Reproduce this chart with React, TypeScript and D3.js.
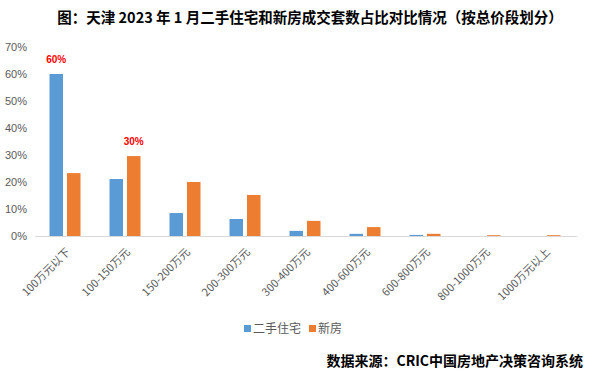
import React from "react";
import * as d3 from "d3";

const categories = ["100万元以下", "100-150万元", "150-200万元", "200-300万元", "300-400万元", "400-600万元", "600-800万元", "800-1000万元", "1000万元以上"];
const secondHand = [60.0, 21.1, 8.5, 6.3, 1.9, 0.8, 0.4, 0, 0];
const newHouse = [23.3, 29.6, 20.0, 15.2, 5.6, 3.3, 0.8, 0.3, 0.3];
const yTicks = [0, 10, 20, 30, 40, 50, 60, 70];
const seriesNames = ["二手住宅", "新房"];
const colors = ["#5B9BD5", "#ED7D31"];
const annotations = [
  { cat: 0, series: 0, text: "60%" },
  { cat: 1, series: 1, text: "30%" },
];

const W = 591, H = 377;
const left = 35, right = 575, top = 47, bottom = 236;

export default function App() {
  const x = d3.scaleBand<string>().domain(categories).range([left, right]).paddingInner(0).paddingOuter(0);
  const y = d3.scaleLinear().domain([0, 70]).range([bottom, top]);
  const barW = 13.5;
  const gap = 4;
  const series = [secondHand, newHouse];
  const barX = (i: number, s: number) => {
    const c = (x(categories[i]) as number) + x.bandwidth() / 2;
    return s === 0 ? c - gap / 2 - barW : c + gap / 2;
  };
  return (
    <svg width={W} height={H} style={{ position: "absolute", left: 0, top: 0, background: "#fff" }}>
      <text x={310} y={23} textAnchor="middle" fontFamily="'Noto Sans CJK SC'" fontWeight="bold" fontSize={14.5} fill="#000">
        图：天津 2023 年 1 月二手住宅和新房成交套数占比对比情况（按总价段划分）
      </text>
      {yTicks.map((t) => (
        <text key={t} x={27} y={y(t) + 4} textAnchor="end" fontFamily="'Liberation Sans', Arial" fontSize={11} fill="#595959">
          {t}%
        </text>
      ))}
      {series.map((vals, s) =>
        vals.map((v, i) =>
          v > 0 ? (
            <rect key={`${s}-${i}`} x={barX(i, s)} y={y(v)} width={barW} height={bottom - y(v)} fill={colors[s]} />
          ) : null
        )
      )}
      <line x1={left} x2={right + 2} y1={bottom + 0.5} y2={bottom + 0.5} stroke="#D9D9D9" strokeWidth={1} />
      {annotations.map((a, k) => (
        <text key={k} x={barX(a.cat, a.series) + barW / 2} y={y(series[a.series][a.cat]) - 11} textAnchor="middle" fontFamily="'Liberation Sans', Arial" fontWeight="bold" fontSize={10} fill="#FF0000">
          {a.text}
        </text>
      ))}
      {categories.map((c) => {
        const cx = (x(c) as number) + x.bandwidth() / 2 + 3;
        const cy = bottom + 14;
        return (
          <text key={c} transform={`translate(${cx},${cy}) rotate(-45)`} textAnchor="end" fontFamily="'Noto Sans CJK SC'" fontSize={11} fill="#595959" dy="0.35em">
            {c}
          </text>
        );
      })}
      {seriesNames.map((n, s) => {
        const lx = s === 0 ? 244 : 309;
        return (
          <g key={n}>
            <rect x={lx} y={325} width={7} height={7} fill={colors[s]} />
            <text x={lx + 9} y={333} fontFamily="'Noto Sans CJK SC'" fontSize={12} fill="#595959">
              {n}
            </text>
          </g>
        );
      })}
      <text x={583} y={366} textAnchor="end" fontFamily="'Noto Sans CJK SC'" fontWeight="bold" fontSize={14} fill="#000">
        数据来源：CRIC中国房地产决策咨询系统
      </text>
    </svg>
  );
}
